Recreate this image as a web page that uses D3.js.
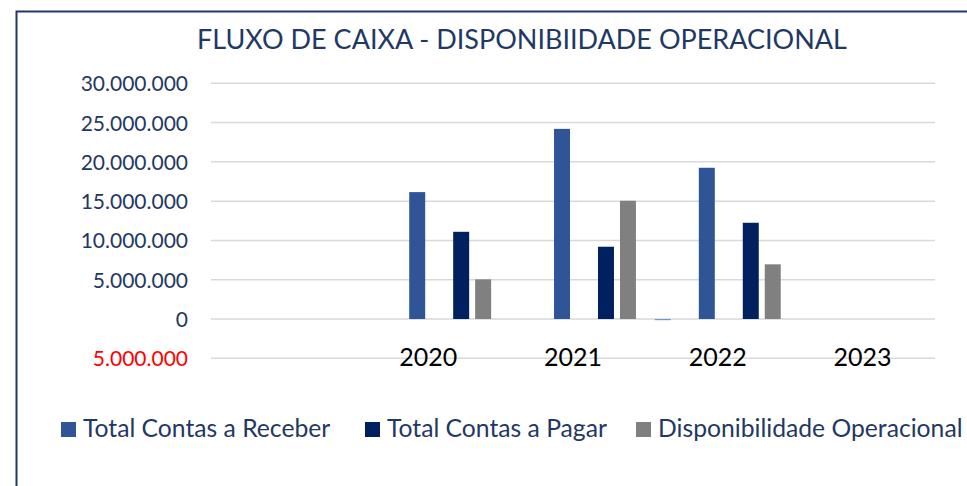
<!DOCTYPE html>
<html>
<head>
<meta charset="utf-8">
<script src="https://cdn.jsdelivr.net/npm/d3@7"></script>
<style>
  html, body { margin: 0; padding: 0; background: #fff; }
  svg { display: block; font-family: Lato, "Open Sans", sans-serif; }
</style>
</head>
<body>
<svg id="chart" width="967" height="486"></svg>
<script>
// categories (first band has no label)
const categories = ["", "2020", "2021", "2022", "2023"];

// series values per category (null = no bar)
const serieOculta = [null, null, null, -150000, null];
const contasReceber = [null, 16150000, 24200000, 19250000, null];
const contasPagar = [null, 11100000, 9200000, 12250000, null];
const disponibilidade = [null, 5050000, 15050000, 6960000, null];

const yTicks = [-5000000, 0, 5000000, 10000000, 15000000, 20000000, 25000000, 30000000];

// 6 slots per category, two of them always empty
const series = [
  { name: "Série oculta", values: serieOculta, color: "#6E96DC", legend: false },
  { name: "", values: categories.map(() => null), color: "none", legend: false },
  { name: "Total Contas a Receber", values: contasReceber, color: "#2F5597", legend: true },
  { name: "", values: categories.map(() => null), color: "none", legend: false },
  { name: "Total Contas a Pagar", values: contasPagar, color: "#002060", legend: true },
  { name: "Disponibilidade Operacional", values: disponibilidade, color: "#808080", legend: true }
];

const svg = d3.select("#chart");
const navy = "#1F3864";

// frame
svg.append("path")
  .attr("d", "M16.5,490 V11.5 H970")
  .attr("fill", "none")
  .attr("stroke", navy)
  .attr("stroke-width", 2);

// title
svg.append("text")
  .attr("x", 522)
  .attr("y", 49)
  .attr("text-anchor", "middle")
  .attr("font-size", 27)
  .attr("fill", navy)
  .text("FLUXO DE CAIXA - DISPONIBIIDADE OPERACIONAL");

const x = d3.scaleBand().domain(categories).range([211, 935]).padding(0);
const xs = d3.scaleBand().domain(d3.range(series.length))
  .range([0, x.bandwidth()])
  .paddingInner(6 / 22)
  .paddingOuter(0.43);
const y = d3.scaleLinear().domain([-5000000, 30000000]).range([358.3, 83.3]);

const fmt = v => d3.formatLocale({ decimal: ",", thousands: ".", grouping: [3], currency: ["R$", ""] })
  .format(",.0f")(Math.abs(v));

// gridlines
svg.append("g")
  .selectAll("line")
  .data(yTicks)
  .join("line")
  .attr("x1", 211)
  .attr("x2", 935)
  .attr("y1", d => y(d))
  .attr("y2", d => y(d))
  .attr("stroke", "#D9D9D9")
  .attr("stroke-width", 1.5);

// y tick labels (negatives in red, no sign)
svg.append("g")
  .selectAll("text")
  .data(yTicks)
  .join("text")
  .attr("x", 188)
  .attr("y", d => y(d) + 8)
  .attr("text-anchor", "end")
  .attr("font-size", 21)
  .attr("fill", d => d < 0 ? "#FF0000" : navy)
  .text(d => fmt(d));

// bars
const g = svg.append("g");
series.forEach((s, i) => {
  g.append("g")
    .attr("fill", s.color)
    .selectAll("rect")
    .data(s.values.map((v, j) => ({ cat: categories[j], v })).filter(d => d.v != null))
    .join("rect")
    .attr("x", d => x(d.cat) + xs(i))
    .attr("width", xs.bandwidth())
    .attr("y", d => y(Math.max(0, d.v)))
    .attr("height", d => Math.abs(y(d.v) - y(0)));
});

// category labels
svg.append("g")
  .selectAll("text")
  .data(categories)
  .join("text")
  .attr("x", d => x(d) + x.bandwidth() / 2)
  .attr("y", 366)
  .attr("text-anchor", "middle")
  .attr("font-size", 25)
  .attr("fill", "#000")
  .text(d => d);

// legend
const legendItems = series.filter(s => s.legend);
const legendX = [61, 365, 636];
const lg = svg.append("g")
  .selectAll("g")
  .data(legendItems)
  .join("g")
  .attr("transform", (d, i) => `translate(${legendX[i]},0)`);
lg.append("rect")
  .attr("y", 422)
  .attr("width", 15)
  .attr("height", 15)
  .attr("fill", d => d.color);
lg.append("text")
  .attr("x", 22)
  .attr("y", 437)
  .attr("font-size", 24.7)
  .attr("fill", navy)
  .text(d => d.name);
</script>
</body>
</html>
